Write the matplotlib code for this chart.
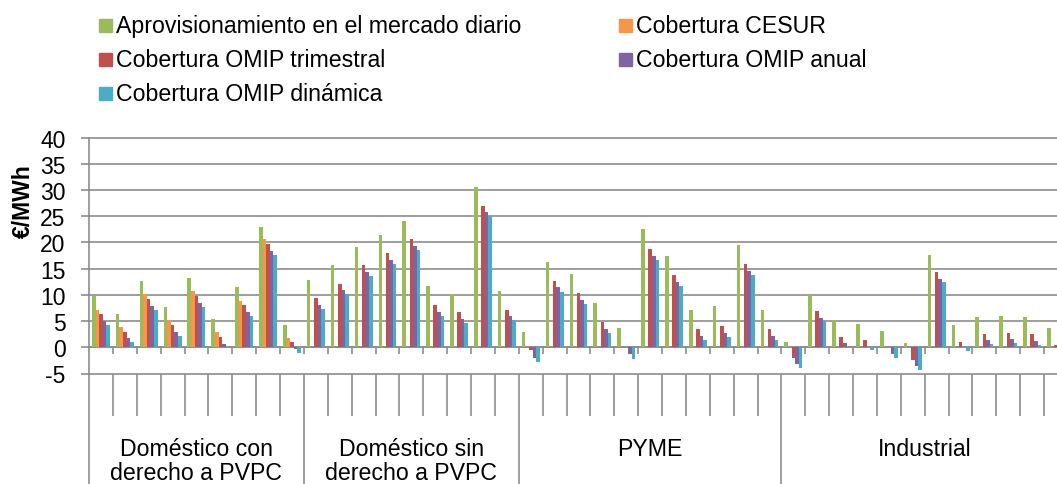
import numpy as np
import matplotlib
matplotlib.use("Agg")
import matplotlib.pyplot as plt
from matplotlib.patches import Rectangle
from matplotlib.transforms import blended_transform_factory

plt.rcParams["font.family"] = ["Liberation Sans", "DejaVu Sans"]
plt.rcParams["axes.unicode_minus"] = False

# ── Data ───────────────────────────────────────────────────────────────────
groups      = ["Doméstico con\nderecho a PVPC", "Doméstico sin\nderecho a PVPC",
               "PYME", "Industrial"]
group_sizes = [9, 9, 11, 12]

series = ["Aprovisionamiento en el mercado diario", "Cobertura CESUR",
          "Cobertura OMIP trimestral", "Cobertura OMIP anual",
          "Cobertura OMIP dinámica"]

nan = np.nan
diario = [9.7, 6.3, 12.6, 7.7, 13.2, 5.4, 11.4, 23.0, 4.3,
          12.8, 15.6, 19.1, 21.4, 24.1, 11.6, 10.1, 30.5, 10.7,
          3.0, 16.3, 14.0, 8.5, 3.7, 22.6, 17.5, 7.1, 7.8, 19.5, 7.2,
          1.1, 10.0, 5.2, 4.5, 3.1, 0.8, 17.6, 4.3, 5.7, 6.0, 5.7, 3.6]
cesur = [7.2, 3.9, 10.1, 5.2, 10.7, 2.9, 8.9, 20.6, 1.8] + [nan] * 32
trimestral = [6.3, 3.0, 9.2, 4.3, 9.8, 2.0, 8.0, 19.7, 1.0,
              9.4, 12.1, 15.7, 17.9, 20.7, 8.1, 6.7, 27.0, 7.2,
              -0.6, 12.6, 10.4, 4.8, 0.0, 18.8, 13.8, 3.4, 4.1, 15.8, 3.5,
              -2.0, 6.9, 2.0, 1.3, 0.0, -2.4, 14.4, 1.1, 2.5, 2.8, 2.5, 0.4]
anual = [5.0, 1.7, 7.9, 3.0, 8.5, 0.7, 6.7, 18.4, -0.3,
         8.1, 10.9, 14.4, 16.6, 19.3, 6.8, 5.4, 25.8, 6.0,
         -2.0, 11.4, 9.0, 3.5, -1.3, 17.5, 12.5, 2.1, 2.8, 14.5, 2.2,
         -3.2, 5.6, 0.8, 0.0, -1.3, -3.6, 13.1, 0.0, 1.3, 1.5, 1.2, 0.2]
dinamica = [4.3, 1.0, 7.1, 2.2, 7.7, 0.0, 5.9, 17.6, -1.1,
            7.3, 10.1, 13.6, 15.8, 18.6, 6.0, 4.7, 25.0, 5.2,
            -2.9, 10.6, 8.2, 2.7, -2.2, 16.7, 11.7, 1.3, 2.0, 13.7, 1.4,
            -3.9, 5.0, 0.0, -0.6, -2.0, -4.3, 12.4, -0.8, 0.6, 0.8, 0.5, 0.1]

values = [diario, cesur, trimestral, anual, dinamica]
yticks = list(range(-5, 41, 5))

# ── Style ──────────────────────────────────────────────────────────────────
COLORS = ["#9BBB59", "#F79646", "#C0504D", "#8064A2", "#4BACC6"]
GRID   = "#8C8C8C"
W, H   = 1057, 485
BAR_W  = 0.15
FS     = 16.7

fig = plt.figure(figsize=(W / 100, H / 100), dpi=100)
# plot area in pixels: x 89 -> 1068 (cut by the image edge), y 138.5 -> 374.5
ax = fig.add_axes([89 / W, (H - 374.5) / H, 979 / W, 236 / H])

n = len(diario)
x = np.arange(n)
for i, (vals, col) in enumerate(zip(values, COLORS)):
    ax.bar(x + (i - 2) * BAR_W, vals, width=BAR_W, color=col,
           linewidth=0, zorder=3)

ax.set_xlim(-0.5, n - 0.5)
ax.set_ylim(-5, 40)
ax.set_yticks(yticks)
ax.tick_params(axis="y", labelsize=16.5, length=6, width=1.2, color=GRID, pad=11)

# category axis crosses at 0, with short ticks between categories
ax.spines["bottom"].set_position(("data", 0))
ax.set_xticks(np.arange(1, n) - 0.5)
ax.tick_params(axis="x", length=5, width=1.2, color=GRID, labelbottom=False)
for side in ["top", "right"]:
    ax.spines[side].set_visible(False)
for side in ["left", "bottom"]:
    ax.spines[side].set_color(GRID)
    ax.spines[side].set_linewidth(1.2)

ax.grid(axis="y", color=GRID, linewidth=1.2, zorder=0)
ax.set_axisbelow(True)
for gl in ax.get_ygridlines():
    gl.set_clip_on(False)

# ── Multi-level category labels below the plot area ────────────────────────
trans = blended_transform_factory(ax.transData, ax.transAxes)
bounds = np.cumsum([0] + group_sizes)
short_lines = [b - 0.5 for b in range(1, n) if b not in bounds]
long_lines = [b - 0.5 for b in bounds[:-1]]
ax.vlines(short_lines, -0.179, 0, transform=trans, color=GRID,
          linewidth=1.2, clip_on=False)
ax.vlines(long_lines, -0.6, 0, transform=trans, color=GRID,
          linewidth=1.2, clip_on=False)

for g, lo, hi in zip(groups, bounds[:-1], bounds[1:]):
    ax.text((lo + hi - 1) / 2, -(438 - 374.5) / 236, g, transform=trans,
            ha="center", va="top", fontsize=FS, linespacing=1.05,
            clip_on=False)

# ── Y axis title ───────────────────────────────────────────────────────────
fig.text(23 / W, 1 - 201 / H, "€/MWh", rotation=90, ha="center",
         va="center", fontsize=16.5, fontweight="bold")

# ── Legend (two columns, row-wise) ─────────────────────────────────────────
legend_pos = [(99, 32.7), (619, 32.7), (99, 66.7), (619, 66.7), (99, 101)]
for name, col, (px, py) in zip(series, COLORS, legend_pos):
    fig.patches.append(Rectangle((px / W, 1 - py / H), 12.5 / W, 13 / H,
                                 transform=fig.transFigure, color=col))
    fig.text((px + 17.5) / W, 1 - py / H, name, ha="left", va="baseline",
             fontsize=FS)

fig.savefig("out.png", dpi=100, facecolor="white")
